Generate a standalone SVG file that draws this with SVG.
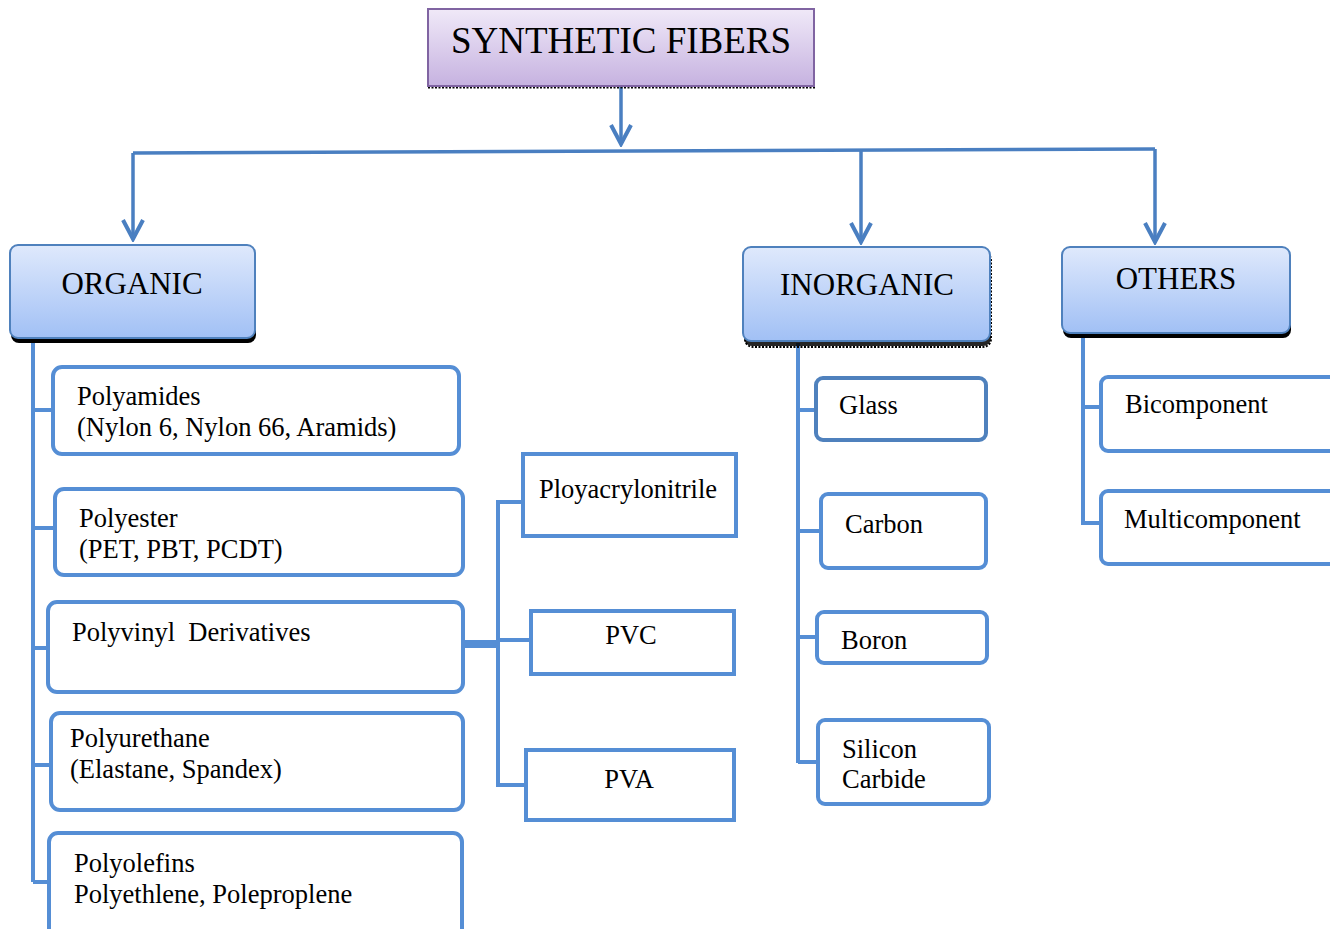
<svg xmlns="http://www.w3.org/2000/svg" width="1330" height="929" viewBox="0 0 1330 929">
<defs>
<linearGradient id="gPurple" x1="0" y1="0" x2="0" y2="1"><stop offset="0" stop-color="#f0e9f8"/><stop offset="1" stop-color="#c6b2e0"/></linearGradient>
<linearGradient id="gBlue" x1="0" y1="0" x2="0" y2="1"><stop offset="0" stop-color="#dfe9fc"/><stop offset="1" stop-color="#a1c0f5"/></linearGradient>
<marker id="arr" markerUnits="userSpaceOnUse" markerWidth="24" markerHeight="26" viewBox="0 0 24 26" refX="21" refY="13" orient="auto"><path d="M2,3 L21,13 L2,23" fill="none" stroke="#4a7fc1" stroke-width="4"/></marker>
<style>
.t{font-family:"Liberation Serif","Times New Roman",serif;fill:#000;}
.big{font-size:37px;}
.hd{font-size:31px;}
.b{font-size:26.5px;}
.box{fill:#fff;stroke:#558ed5;stroke-width:4;}
.hbox{fill:url(#gBlue);stroke:#4f81bd;stroke-width:2;}
.sh{fill:#000;}
.c{fill:none;stroke:#558ed5;stroke-width:4;}
.a{fill:none;stroke:#4a7fc1;stroke-width:3.5;}
</style>
</defs>
<rect width="1330" height="929" fill="#fff"/>

<g id="connectors">
<line class="a" x1="621" y1="86" x2="621" y2="144" marker-end="url(#arr)"/>
<path class="a" d="M133,153 L1155,149"/>
<line class="a" x1="133" y1="153" x2="133" y2="239" marker-end="url(#arr)"/>
<line class="a" x1="861" y1="151" x2="861" y2="242" marker-end="url(#arr)"/>
<line class="a" x1="1155" y1="149" x2="1155" y2="242" marker-end="url(#arr)"/>
<path class="c" d="M33,340 V882 M33,410 H53 M33,528 H55 M33,648 H48 M33,765 H50 M33,882 H49"/>
<path class="c" d="M465,644 H498" style="stroke-width:8"/>
<path class="c" d="M498,502 V785 M496,502 H522 M498,640 H530 M496,785 H525"/>
<path class="c" d="M798,343 V763 M798,410 H815 M798,531 H820 M798,637 H817 M798,762 H817"/>
<path class="c" d="M1083,335 V525 M1083,407 H1101 M1081,523 H1100"/>
</g>

<g id="synthetic-fibers">
<line x1="428" y1="87.5" x2="815" y2="87.5" stroke="#000" stroke-width="2" stroke-dasharray="2,1.5"/>
<rect x="428" y="9" width="386" height="77" fill="url(#gPurple)" stroke="#8064a2" stroke-width="2"/>
<text class="t big" x="621" y="53" text-anchor="middle">SYNTHETIC FIBERS</text>
</g>

<g id="organic">
<rect class="sh" x="11" y="249" width="245" height="94" rx="8"/>
<rect class="hbox" x="10" y="245" width="245" height="93" rx="8"/>
<text class="t hd" x="132" y="294" text-anchor="middle">ORGANIC</text>
</g>

<g id="inorganic">
<rect x="745" y="252" width="246" height="95" rx="8" fill="none" stroke="#000" stroke-width="2" stroke-dasharray="2,1.5"/>
<rect class="sh" x="744" y="251" width="247" height="95" rx="8" fill-opacity="0.85"/>
<rect class="hbox" x="743" y="247" width="247" height="94" rx="8"/>
<text class="t hd" x="867" y="295" text-anchor="middle">INORGANIC</text>
</g>

<g id="others">
<rect class="sh" x="1063" y="251" width="228" height="87" rx="8"/>
<rect class="hbox" x="1062" y="247" width="228" height="86" rx="8"/>
<text class="t hd" x="1176" y="289" text-anchor="middle">OTHERS</text>
</g>

<g id="polyamides">
<rect class="box" x="53" y="367" width="406" height="87" rx="9"/>
<text class="t b" x="77" y="405">Polyamides</text>
<text class="t b" x="77" y="436">(Nylon 6, Nylon 66, Aramids)</text>
</g>
<g id="polyester">
<rect class="box" x="55" y="489" width="408" height="86" rx="9"/>
<text class="t b" x="79" y="527">Polyester</text>
<text class="t b" x="79" y="558">(PET, PBT, PCDT)</text>
</g>
<g id="polyvinyl">
<rect class="box" x="48" y="602" width="415" height="90" rx="9"/>
<text class="t b" x="72" y="641" xml:space="preserve">Polyvinyl  Derivatives</text>
</g>
<g id="polyurethane">
<rect class="box" x="51" y="713" width="412" height="97" rx="9"/>
<text class="t b" x="70" y="747">Polyurethane</text>
<text class="t b" x="70" y="778">(Elastane, Spandex)</text>
</g>
<g id="polyolefins">
<rect class="box" x="49" y="833" width="413" height="110" rx="9"/>
<text class="t b" x="74" y="872">Polyolefins</text>
<text class="t b" x="74" y="903">Polyethlene, Poleproplene</text>
</g>

<g id="ployacrylonitrile">
<rect class="box" x="523" y="454" width="213" height="82"/>
<text class="t b" x="628" y="498" text-anchor="middle">Ployacrylonitrile</text>
</g>
<g id="pvc">
<rect class="box" x="531" y="611" width="203" height="63"/>
<text class="t b" x="631" y="644" text-anchor="middle">PVC</text>
</g>
<g id="pva">
<rect class="box" x="526" y="750" width="208" height="70"/>
<text class="t b" x="629" y="788" text-anchor="middle">PVA</text>
</g>

<g id="glass">
<rect class="box" x="816" y="378" width="170" height="62" rx="7" style="stroke:#4f81bd"/>
<text class="t b" x="839" y="414">Glass</text>
</g>
<g id="carbon">
<rect class="box" x="821" y="494" width="165" height="74" rx="7"/>
<text class="t b" x="845" y="533">Carbon</text>
</g>
<g id="boron">
<rect class="box" x="817" y="612" width="170" height="51" rx="7"/>
<text class="t b" x="841" y="649">Boron</text>
</g>
<g id="silicon-carbide">
<rect class="box" x="818" y="720" width="171" height="84" rx="7"/>
<text class="t b" x="842" y="758">Silicon</text>
<text class="t b" x="842" y="788">Carbide</text>
</g>

<g id="bicomponent">
<rect class="box" x="1101" y="377" width="240" height="74" rx="7"/>
<text class="t b" x="1125" y="413">Bicomponent</text>
</g>
<g id="multicomponent">
<rect class="box" x="1101" y="491" width="240" height="73" rx="7"/>
<text class="t b" x="1124" y="528">Multicomponent</text>
</g>
</svg>
